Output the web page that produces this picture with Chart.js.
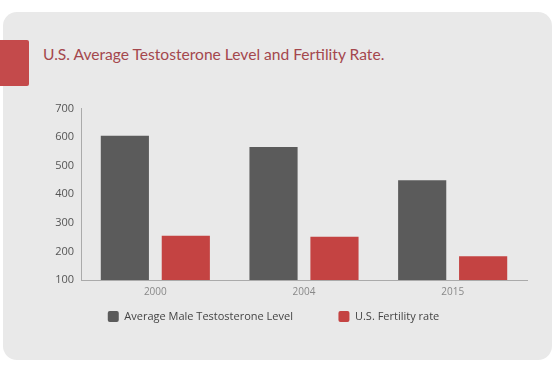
<!DOCTYPE html>
<html>
<head>
<meta charset="utf-8">
<script src="https://cdn.jsdelivr.net/npm/chart.js@4"></script>
<style>
  body { margin: 0; background: #fff; width: 555px; height: 370px; position: relative; overflow: hidden; }
  .card { position: absolute; left: 3px; top: 12px; width: 549px; height: 348px; background: #e9e9e9; border-radius: 14px; }
  .mark { position: absolute; left: 0; top: 40px; width: 29px; height: 46px; background: #c44a4b; border-radius: 0 2px 2px 0; }
  .title { position: absolute; left: 43px; top: 45px; font-family: Lato, sans-serif; font-size: 15.6px; color: #a4474d; white-space: nowrap; }
  #chart { position: absolute; left: 0; top: 95px; }
</style>
</head>
<body>
<div class="card"></div>
<div class="mark"></div>
<div class="title">U.S. Average Testosterone Level and Fertility Rate.</div>
<canvas id="chart" width="555" height="245"></canvas>
<script>
  // values
  const years = ["2000", "2004", "2015"];
  const testosterone = [605, 566, 449];
  const fertility = [255, 251, 183];

  const ctx = document.getElementById("chart").getContext("2d");
  const chart = new Chart(ctx, {
    type: 'bar',
    data: {
      labels: years,
      datasets: [{
        label: "Average Male Testosterone Level",
        data: testosterone,
        backgroundColor: "#5b5b5b"
      }, {
        label: "U.S. Fertility rate",
        data: fertility,
        backgroundColor: "#c44342"
      }]
    },
    options: {
      responsive: false,
      animation: false,
      categoryPercentage: 0.82,
      barPercentage: 0.79,
      layout: { padding: { left: 20, right: 28, top: 12, bottom: 8 } },
      plugins: {
        tooltip: { enabled: false },
        legend: {
          position: 'bottom',
          labels: {
            boxWidth: 11,
            boxHeight: 11,
            useBorderRadius: true,
            borderRadius: 2,
            padding: 7,
            color: "#444",
            font: { family: "'Open Sans', sans-serif", size: 11 },
            // wider gap between the two items than the vertical padding allows
            generateLabels: function (chart) {
              const items = Chart.defaults.plugins.legend.labels.generateLabels(chart);
              items[0].text = items[0].text + "\u2003\u2003\u2003\u2002";
              return items;
            }
          }
        }
      },
      scales: {
        x: {
          grid: { display: false, drawTicks: false },
          border: { color: "#aaa" },
          ticks: { color: "#888", font: { family: "'Open Sans', sans-serif", size: 10 }, padding: 6 }
        },
        y: {
          min: 100,
          max: 700,
          afterFit: function (scale) { scale.width = 61; },
          grid: { display: false, drawTicks: false },
          border: { color: "#aaa" },
          ticks: { stepSize: 100, color: "#555", font: { family: "'Open Sans', sans-serif", size: 11 }, padding: 7 }
        }
      }
    }
  });
</script>
</body>
</html>
